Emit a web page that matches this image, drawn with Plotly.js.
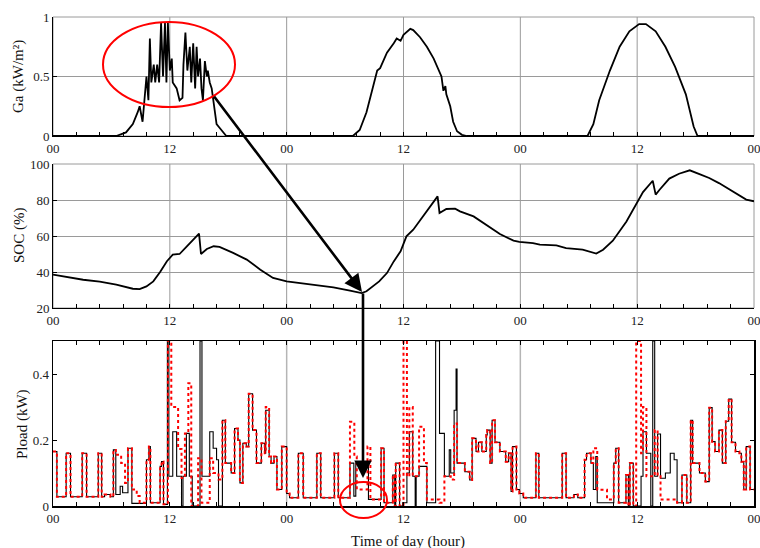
<!DOCTYPE html>
<html><head><meta charset="utf-8">
<script src="https://cdn.plot.ly/plotly-3.0.1.min.js"></script>
<style>html,body{margin:0;padding:0;background:#fff}#chart{width:760px;height:548px}</style>
</head><body><div id="chart"></div>
<script>
// ---------- data ----------
const hourTicks  = [0, 12, 24, 36, 48, 60, 72];
const hourLabels = ['00', '12', '00', '12', '00', '12', '00'];
const smallTicks = [0, 2.4, 4.8, 7.2, 9.6, 12, 14.4, 16.8, 19.2, 21.6, 24, 26.4, 28.8, 31.2, 33.6,
                    36, 38.4, 40.8, 43.2, 45.6, 48, 50.4, 52.8, 55.2, 57.6, 60, 62.4, 64.8, 67.2, 69.6, 72];

// Solar irradiance Ga (kW/m2)
const tGa = [
  0, 6.5, 7.5, 8.2, 8.7, 8.9, 9.2, 9.4, 9.6, 9.8,
  9.95, 10.1, 10.35, 10.5, 10.7, 10.9, 11.1, 11.3, 11.5, 11.65,
  11.8, 12.0, 12.2, 12.3, 12.7, 13.0, 13.3, 13.4, 13.6, 13.8,
  14.05, 14.2, 14.4, 14.6, 14.75, 14.9, 15.1, 15.25, 15.4, 15.6,
  15.8, 15.9, 16.1, 16.3, 16.45, 16.6, 16.8, 17.0, 17.3, 17.8,
  30.8, 31.5, 32.2, 32.8, 33.3, 33.6, 34.3, 35.0, 35.3, 35.7,
  36.0, 36.7, 37.0, 37.7, 38.4, 39.1, 39.6, 39.9, 40.1, 40.3,
  40.4, 40.8, 41.1, 41.5, 42.0, 42.5, 54.9, 55.5, 56.1, 57.2,
  58.2, 59.2, 60.2, 60.9, 61.9, 62.9, 63.9, 65.0, 65.8, 66.2,
  72
];
const ga = [
  0, 0, 0.03, 0.1, 0.2, 0.25, 0.12, 0.3, 0.5, 0.3,
  0.82, 0.45, 0.6, 0.45, 0.6, 0.45, 0.95, 0.5, 0.95, 0.45,
  0.95, 0.55, 0.65, 0.45, 0.4, 0.3, 0.32, 0.6, 0.87, 0.55,
  0.75, 0.45, 0.78, 0.4, 0.75, 0.5, 0.65, 0.4, 0.3, 0.63,
  0.5, 0.55, 0.45, 0.4, 0.3, 0.2, 0.1, 0.08, 0.05, 0,
  0, 0.05, 0.2, 0.4, 0.55, 0.57, 0.7, 0.78, 0.82, 0.8,
  0.85, 0.9, 0.89, 0.83, 0.75, 0.65, 0.55, 0.5, 0.38, 0.42,
  0.35, 0.25, 0.12, 0.04, 0.01, 0, 0, 0.1, 0.3, 0.55,
  0.75, 0.88, 0.94, 0.94, 0.88, 0.75, 0.58, 0.35, 0.08, 0,
  0
];

// Battery state of charge (%)
const tSoc = [
  0, 1.4, 3.1, 4.8, 6.5, 8.2, 8.9, 9.6, 10.3, 11.0,
  11.7, 12.3, 13.0, 13.7, 14.4, 15.0, 15.2, 15.8, 16.5, 17.1,
  18.5, 19.9, 21.3, 22.6, 24.0, 25.4, 27.1, 28.8, 30.5, 31.7,
  32.2, 33.5, 34.3, 35.0, 35.7, 36.3, 37.0, 38.0, 38.7, 39.5,
  39.7, 40.4, 41.3, 41.8, 43.2, 44.5, 45.9, 47.3, 47.9, 49.3,
  50.0, 51.7, 52.7, 54.4, 55.1, 55.8, 56.5, 57.5, 58.9, 59.9,
  60.6, 61.6, 61.9, 62.3, 63.3, 64.3, 65.4, 66.4, 67.4, 68.4,
  69.8, 71.2, 72
];
const soc = [
  38.5, 37.2, 35.7, 34.6, 33, 30.7, 30.5, 32, 34.8, 40,
  46, 49.6, 50, 54, 58, 61.3, 50, 52.8, 54.3, 53.9,
  50.6, 46.9, 41.3, 36.7, 34.8, 33.9, 32.6, 31.5, 29.6, 28.3,
  29.3, 34.8, 39.4, 45.9, 51.5, 59.8, 63.5, 70.9, 75.6, 82,
  72.8, 75, 75.2, 73.7, 70.9, 66.3, 61.1, 57.4, 56.7, 56.1,
  55.2, 54.8, 53.3, 52.4, 51.5, 50.2, 52.4, 57.4, 68.1, 77.4,
  84.4, 90.7, 83, 85.7, 91.9, 94.6, 96.5, 94.4, 92.2, 89.4,
  84.8, 80.2, 79.3
];

// Load power, black solid series (kW), step changes at these hours
const tLoadBlack = [
  0, 0.4, 1.35, 1.8, 3.0, 3.45, 4.65, 5.0, 5.3, 5.9,
  6.2, 6.45, 6.9, 7.15, 7.7, 8.1, 9.6, 9.85, 10.0, 11.0,
  11.15, 11.35, 11.75, 11.9, 12.3, 12.7, 13.2, 13.35, 13.7, 14.0,
  14.3, 15.1, 15.3, 16.1, 16.45, 16.8, 17.0, 17.4, 17.7, 18.3,
  18.65, 19.0, 19.2, 19.5, 19.85, 20.1, 20.5, 20.9, 21.4, 21.75,
  21.85, 22.2, 22.4, 22.7, 23.0, 23.5, 24.0, 24.3, 25.2, 25.7,
  27.1, 27.5, 28.9, 29.3, 30.5, 30.9, 31.1, 32.4, 33.7, 34.0,
  34.9, 35.1, 35.2, 35.6, 35.9, 36.35, 36.6, 36.95, 37.2, 37.3,
  37.6, 38.4, 39.3, 39.7, 40.2, 40.7, 40.85, 41.2, 41.4, 41.5,
  42.3, 42.8, 43.05, 43.45, 43.7, 44.05, 44.5, 44.6, 44.9, 45.1,
  45.4, 45.9, 46.5, 46.8, 47.05, 47.2, 47.6, 47.9, 48.3, 49.6,
  49.9, 52.3, 52.7, 53.5, 53.9, 54.6, 54.8, 55.25, 55.5, 55.75,
  55.9, 57.6, 57.8, 58.1, 58.85, 59.1, 59.25, 59.6, 60.4, 60.6,
  60.95, 61.4, 61.6, 61.8, 62.1, 62.4, 62.9, 63.4, 63.8, 64.1,
  64.6, 65.1, 65.5, 65.7, 66.4, 67.0, 67.4, 67.7, 68.0, 68.4,
  68.75, 69.1, 69.4, 69.7, 70.1, 70.5, 70.7, 70.95, 71.2, 71.6,
  72
];
const loadBlack = [
  0.165, 0.028, 0.16, 0.028, 0.16, 0.028, 0.16, 0.028, 0.035, 0.028,
  0.17, 0.035, 0.06, 0.04, 0.175, 0.008, 0.14, 0.18, 0.01, 0.12,
  0.135, 0.005, 0.5, 0.09, 0.225, 0.09, 0.0, 0.09, 0.22, 0.09,
  0.0, 0.5, 0.09, 0.225, 0.175, 0.14, 0.0, 0.26, 0.13, 0.1,
  0.235, 0.2, 0.07, 0.19, 0.18, 0.34, 0.23, 0.13, 0.19, 0.16,
  0.29, 0.15, 0.13, 0.15, 0.05, 0.18, 0.038, 0.025, 0.16, 0.025,
  0.16, 0.025, 0.16, 0.025, 0.13, 0.03, 0.13, 0.02, 0.175, 0.01,
  0.094, 0.0, 0.13, 0.0, 0.01, 0.1, 0.225, 0.09, 0.0, 0.09,
  0.12, 0.01, 0.5, 0.22, 0.09, 0.17, 0.1, 0.29, 0.415, 0.13,
  0.104, 0.079, 0.205, 0.165, 0.193, 0.165, 0.215, 0.23, 0.13, 0.26,
  0.193, 0.165, 0.134, 0.16, 0.044, 0.18, 0.05, 0.038, 0.025, 0.16,
  0.025, 0.16, 0.025, 0.035, 0.025, 0.14, 0.16, 0.13, 0.05, 0.15,
  0.01, 0.13, 0.175, 0.01, 0.094, 0.0, 0.13, 0.0, 0.09, 0.225,
  0.16, 0.0, 0.5, 0.09, 0.218, 0.084, 0.1, 0.16, 0.14, 0.01,
  0.094, 0.01, 0.26, 0.13, 0.1, 0.074, 0.298, 0.195, 0.165, 0.23,
  0.13, 0.257, 0.324, 0.193, 0.165, 0.16, 0.134, 0.05, 0.18, 0.05,
  0.05
];

// Load power, red dotted series (kW)
const tLoadRed = [
  0, 0.4, 1.35, 1.8, 3.0, 3.45, 4.65, 5.0, 5.3, 5.9,
  6.2, 6.45, 7.0, 7.4, 7.7, 8.1, 8.6, 8.9, 9.6, 9.85,
  10.0, 11.0, 11.15, 11.35, 11.8, 12.15, 12.85, 13.2, 13.55, 13.9,
  14.2, 14.9, 15.25, 16.1, 16.45, 17.0, 17.4, 17.7, 18.3, 18.65,
  19.0, 19.2, 19.5, 19.85, 20.1, 20.5, 20.9, 21.4, 21.75, 21.85,
  22.2, 22.4, 22.7, 23.0, 23.5, 24.0, 24.3, 25.2, 25.7, 27.1,
  27.5, 28.9, 29.3, 30.5, 30.95, 31.2, 32.3, 32.6, 33.7, 34.0,
  34.9, 35.1, 35.2, 35.6, 36.0, 36.35, 36.6, 36.95, 37.6, 38.1,
  38.4, 39.7, 40.2, 40.85, 41.2, 41.5, 42.3, 42.8, 43.05, 43.45,
  43.7, 44.05, 44.5, 44.6, 44.9, 45.1, 45.4, 45.9, 46.5, 46.8,
  47.05, 47.2, 47.6, 47.9, 48.3, 49.6, 49.9, 52.3, 52.7, 53.5,
  53.9, 54.6, 54.8, 55.25, 55.5, 55.9, 56.9, 57.6, 57.8, 58.1,
  58.85, 59.1, 59.25, 59.6, 59.9, 60.4, 60.6, 60.95, 61.8, 62.1,
  62.4, 64.1, 64.6, 65.1, 65.5, 65.7, 66.4, 67.0, 67.4, 67.7,
  68.0, 68.4, 68.75, 69.1, 69.4, 69.7, 70.1, 70.5, 70.7, 70.95,
  71.2, 71.6, 72
];
const loadRed = [
  0.165, 0.028, 0.16, 0.028, 0.16, 0.028, 0.16, 0.028, 0.035, 0.028,
  0.17, 0.155, 0.13, 0.07, 0.175, 0.05, 0.03, 0.01, 0.14, 0.18,
  0.01, 0.12, 0.135, 0.005, 0.5, 0.3, 0.173, 0.085, 0.22, 0.372,
  0.0, 0.145, 0.01, 0.145, 0.1, 0.08, 0.26, 0.13, 0.1, 0.235,
  0.2, 0.07, 0.19, 0.18, 0.34, 0.23, 0.13, 0.19, 0.16, 0.3,
  0.15, 0.13, 0.15, 0.05, 0.18, 0.038, 0.025, 0.16, 0.025, 0.16,
  0.025, 0.16, 0.025, 0.255, 0.15, 0.05, 0.18, 0.02, 0.175, 0.01,
  0.094, 0.0, 0.13, 0.0, 0.5, 0.09, 0.3, 0.09, 0.24, 0.13,
  0.02, 0.01, 0.09, 0.08, 0.25, 0.13, 0.104, 0.079, 0.205, 0.165,
  0.193, 0.165, 0.215, 0.23, 0.13, 0.26, 0.193, 0.165, 0.134, 0.16,
  0.044, 0.18, 0.05, 0.038, 0.025, 0.16, 0.025, 0.16, 0.025, 0.035,
  0.025, 0.14, 0.16, 0.13, 0.175, 0.049, 0.02, 0.13, 0.175, 0.01,
  0.094, 0.0, 0.13, 0.0, 0.5, 0.16, 0.3, 0.09, 0.23, 0.09,
  0.02, 0.01, 0.094, 0.01, 0.26, 0.13, 0.1, 0.074, 0.298, 0.195,
  0.165, 0.23, 0.13, 0.257, 0.324, 0.193, 0.165, 0.16, 0.134, 0.05,
  0.18, 0.05, 0.05
];

const midnightLines = [24, 48];

// ---------- layout helpers ----------
const W = 760, H = 548, ML = 53, MR = 6, MT = 17, MB = 42;
const PW = W - ML - MR, PH = H - MT - MB;
const fx = p => (p - ML) / PW;          // pixel x -> paper
const fy = p => (H - MB - p) / PH;      // pixel y -> paper

const FONT = 'Liberation Serif, Times New Roman, serif';
const tickFont = {family: FONT, size: 13, color: '#222'};

// tick labels only on the 12-hour marks, small ticks every 2.4 h
const smallTickText = smallTicks.map(v => {
  const i = hourTicks.indexOf(v);
  return i >= 0 ? hourLabels[i] : '';
});

function xAxis(anchor, boxed) {
  return {
    anchor: anchor, range: [0, 72], domain: [0, 1],
    tickmode: 'array', tickvals: smallTicks, ticktext: smallTickText,
    ticks: 'inside', ticklen: 4, tickcolor: '#000', tickwidth: 1,
    ticklabeloverflow: 'allow',
    showline: true, linecolor: '#000', linewidth: boxed ? 1.5 : 1,
    mirror: boxed ? 'ticks' : false,
    showgrid: false, zeroline: false,
    tickfont: tickFont, fixedrange: true
  };
}
function yAxis(anchor, dom, range, vals, texts, grid, boxed) {
  return {
    anchor: anchor, domain: dom, range: range,
    tickmode: 'array', tickvals: vals, ticktext: texts,
    ticks: 'inside', ticklen: 4, tickcolor: '#000',
    ticklabeloverflow: 'allow',
    showline: true, linecolor: '#000', linewidth: boxed ? 1.5 : 1,
    mirror: boxed ? 'ticks' : false,
    showgrid: grid, gridcolor: '#9a9a9a', gridwidth: 1, zeroline: false,
    tickfont: tickFont, fixedrange: true
  };
}

const traces = [
  {x: tGa, y: ga, xaxis: 'x', yaxis: 'y', mode: 'lines',
   line: {color: '#000', width: 1.8}, hoverinfo: 'skip'},
  {x: tSoc, y: soc, xaxis: 'x2', yaxis: 'y2', mode: 'lines',
   line: {color: '#000', width: 1.8}, hoverinfo: 'skip'},
  {x: tLoadBlack, y: loadBlack, xaxis: 'x3', yaxis: 'y3', mode: 'lines',
   line: {color: '#000', width: 1.1, shape: 'hv'}, hoverinfo: 'skip'},
  {x: tLoadRed, y: loadRed, xaxis: 'x3', yaxis: 'y3', mode: 'lines',
   line: {color: '#ff0000', width: 2, shape: 'hv', dash: 'dot'}, hoverinfo: 'skip'}
];

const shapes = [
  // gray frame (top & right) for upper two panels
  {type: 'rect', xref: 'x domain', yref: 'y domain', x0: 0, x1: 1, y0: 0, y1: 1,
   line: {color: '#9a9a9a', width: 1}, layer: 'below'},
  {type: 'rect', xref: 'x2 domain', yref: 'y2 domain', x0: 0, x1: 1, y0: 0, y1: 1,
   line: {color: '#9a9a9a', width: 1}, layer: 'below'},
  // highlight ellipses
  {type: 'circle', xref: 'paper', yref: 'paper',
   x0: fx(103), x1: fx(235), y0: fy(107), y1: fy(22),
   line: {color: '#ff0000', width: 2}, layer: 'above'},
  {type: 'circle', xref: 'paper', yref: 'paper',
   x0: fx(340), x1: fx(387), y0: fy(518), y1: fy(482),
   line: {color: '#ff0000', width: 2}, layer: 'above'}
];
// vertical grid lines of the two upper panels at the 12-hour marks
['x', 'x2'].forEach((xr, k) => {
  const yr = k === 0 ? 'y domain' : 'y2 domain';
  hourTicks.slice(1, -1).forEach(h => shapes.push({
    type: 'line', xref: xr, yref: yr, x0: h, x1: h, y0: 0, y1: 1,
    line: {color: '#9a9a9a', width: 1}, layer: 'below'
  }));
});
midnightLines.forEach(h => shapes.push({
  type: 'line', xref: 'x3', yref: 'y3 domain', x0: h, x1: h, y0: 0, y1: 1,
  line: {color: '#b5b5b5', width: 1.5}, layer: 'below'
}));

const titleFont = {family: FONT, size: 15, color: '#111'};
const annotations = [
  {text: 'Ga (kW/m²)', xref: 'paper', yref: 'paper', x: fx(19), y: fy(77),
   textangle: -90, showarrow: false, font: titleFont, xanchor: 'center', yanchor: 'middle'},
  {text: 'SOC (%)', xref: 'paper', yref: 'paper', x: fx(20), y: fy(236),
   textangle: -90, showarrow: false, font: titleFont, xanchor: 'center', yanchor: 'middle'},
  {text: 'Pload (kW)', xref: 'paper', yref: 'paper', x: fx(22), y: fy(424),
   textangle: -90, showarrow: false, font: titleFont, xanchor: 'center', yanchor: 'middle'},
  {text: 'Time of day (hour)', xref: 'paper', yref: 'paper', x: fx(408), y: fy(541),
   showarrow: false, font: titleFont, xanchor: 'center', yanchor: 'middle'},
  // arrows
  {text: '', xref: 'paper', yref: 'paper', x: fx(362), y: fy(292),
   ax: 213 - 362, ay: 95 - 292, axref: 'pixel', ayref: 'pixel',
   showarrow: true, arrowhead: 2, arrowsize: 1.35, arrowwidth: 2.6, arrowcolor: '#000', standoff: 0},
  {text: '', xref: 'paper', yref: 'paper', x: fx(363), y: fy(478),
   ax: 0, ay: 292 - 478, axref: 'pixel', ayref: 'pixel',
   showarrow: true, arrowhead: 2, arrowsize: 1.35, arrowwidth: 2.6, arrowcolor: '#000', standoff: 0}
];

const layout = {
  width: W, height: H,
  margin: {l: ML, r: MR, t: MT, b: MB, pad: 0},
  paper_bgcolor: '#fff', plot_bgcolor: '#fff',
  showlegend: false,
  font: {family: FONT, size: 13, color: '#222'},
  xaxis: xAxis('y', false),
  yaxis: yAxis('x', [fy(136), fy(17)], [0, 1], [0, 0.5, 1], ['0', '0.5', '1'], true, false),
  xaxis2: xAxis('y2', false),
  yaxis2: yAxis('x2', [fy(308), fy(164)], [20, 100], [20, 40, 60, 80, 100],
                ['20', '40', '60', '80', '100'], true, false),
  xaxis3: xAxis('y3', true),
  yaxis3: yAxis('x3', [0, fy(341)], [0, 0.5], [0, 0.2, 0.4], ['0', '0.2', '0.4'], false, true),
  shapes: shapes,
  annotations: annotations
};

Plotly.newPlot('chart', traces, layout, {displayModeBar: false, staticPlot: true});
</script>
</body></html>
